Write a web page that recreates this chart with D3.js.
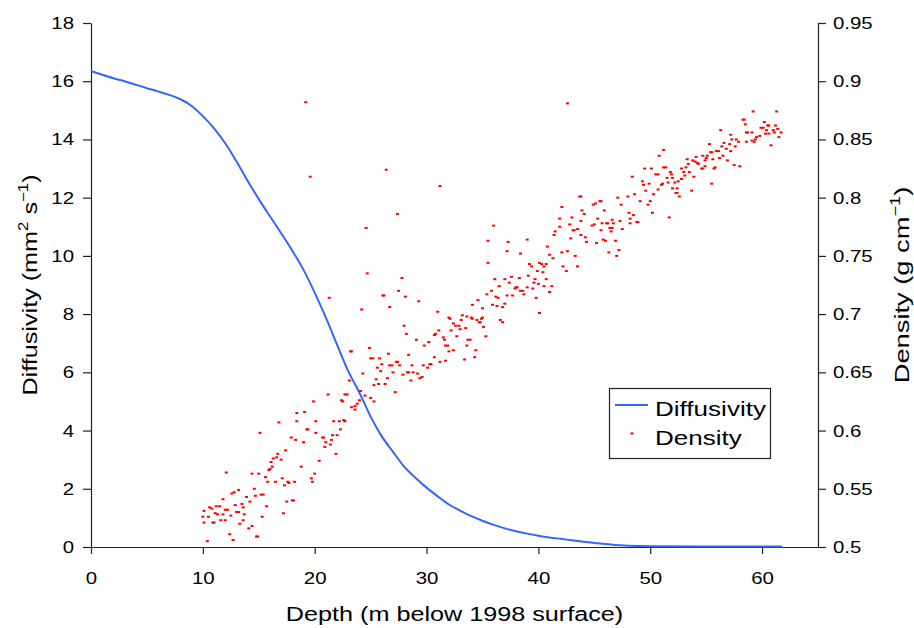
<!DOCTYPE html>
<html>
<head>
<meta charset="utf-8">
<script src="https://cdn.jsdelivr.net/npm/d3@7"></script>
<style>
  body { margin: 0; background: #fff; }
  svg { display: block; }
  text { font-family: "Liberation Sans", Arial, sans-serif; fill: #000; }
</style>
</head>
<body>
<div id="chart"></div>
<script>
// diffusivity profile (depth m, mm2 s-1)
const diffDepth = [0,1,2,3,4,5,6,7,8,9,10,11,12,13,14,15,16,17,18,19,20,21,22,23,24,25,26,27,28,29,30,31,32,33,34,35,36,37,38,39,40,41,42,43,44,45,46,47,48,50,55,61.8];
const diffValues = [16.35,16.22,16.1,16.0,15.88,15.76,15.65,15.53,15.38,15.15,14.8,14.38,13.87,13.25,12.58,11.95,11.36,10.78,10.18,9.52,8.74,7.88,6.95,6.04,5.3,4.48,3.8,3.27,2.76,2.38,2.04,1.74,1.46,1.25,1.06,0.9,0.76,0.64,0.54,0.46,0.39,0.33,0.28,0.23,0.18,0.14,0.1,0.07,0.04,0.025,0.02,0.02];

// density samples [depth m, g cm-3]
const densityPoints = [
  [19.9,0.625],[18.4,0.615],[19.1,0.616],[20.1,0.608],[18.4,0.608],[16.8,0.607],[19.3,0.601],[19.4,0.601],[20.1,0.598],[15.1,0.598],
  [17.9,0.594],[18.3,0.592],[19.0,0.590],[17.4,0.583],[16.7,0.580],[16.3,0.576],[16.6,0.577],[16.1,0.573],[17.0,0.575],[20.4,0.574],
  [16.2,0.569],[16.0,0.567],[15.9,0.566],[18.8,0.569],[12.1,0.564],[14.4,0.563],[15.0,0.563],[20.0,0.563],[15.6,0.560],[17.1,0.559],
  [19.7,0.559],[19.8,0.556],[15.8,0.556],[16.5,0.556],[17.6,0.556],[17.7,0.555],[18.2,0.556],[17.3,0.553],[13.2,0.549],[12.8,0.547],
  [12.6,0.546],[14.6,0.550],[13.9,0.543],[14.7,0.544],[15.2,0.545],[15.4,0.545],[11.8,0.541],[14.2,0.539],[17.5,0.539],[18.0,0.540],
  [18.1,0.540],[12.9,0.536],[13.5,0.537],[15.7,0.535],[11.2,0.535],[11.5,0.535],[10.6,0.534],[10.8,0.533],[13.6,0.534],[12.0,0.532],
  [12.2,0.532],[10.1,0.531],[13.0,0.530],[13.2,0.530],[11.1,0.529],[11.3,0.528],[11.8,0.528],[12.5,0.527],[13.7,0.528],[15.3,0.526],
  [17.2,0.529],[10.0,0.526],[10.5,0.526],[11.6,0.523],[12.0,0.523],[13.6,0.523],[10.1,0.521],[10.9,0.521],[11.0,0.521],[13.3,0.520],
  [14.4,0.518],[14.1,0.516],[12.4,0.511],[14.8,0.509],[14.9,0.509],[12.7,0.506],[10.4,0.505],
  [20.7,0.594],[20.8,0.594],[21.6,0.596],[22.0,0.596],[21.5,0.592],[21.0,0.590],[21.4,0.588],[20.9,0.586],[21.9,0.580],
  [24.7,0.735],[27.8,0.731],[27.5,0.720],[26.1,0.716],[26.2,0.716],[28.1,0.715],[21.3,0.714],[29.3,0.711],[24.2,0.704],[26.7,0.706],
  [28.0,0.690],[28.2,0.683],[29.1,0.678],[30.2,0.676],[29.8,0.673],[23.2,0.668],[23.3,0.668],[24.9,0.671],[26.6,0.666],[28.4,0.665],
  [25.0,0.662],[25.2,0.662],[25.8,0.662],[26.0,0.657],[27.3,0.659],[27.4,0.659],[30.3,0.657],[26.7,0.656],[26.9,0.656],[27.6,0.656],
  [28.7,0.656],[29.7,0.656],[25.6,0.654],[30.1,0.654],[25.9,0.651],[27.0,0.650],[28.3,0.650],[28.4,0.650],[28.8,0.650],[29.2,0.649],
  [27.9,0.648],[24.3,0.649],[29.6,0.646],[29.4,0.645],[26.5,0.645],[25.5,0.644],[28.6,0.643],[23.1,0.643],[25.7,0.640],[26.3,0.640],
  [25.3,0.639],[24.1,0.634],[27.2,0.633],[21.2,0.631],[22.7,0.631],[22.9,0.631],[24.5,0.630],[25.0,0.628],[22.4,0.626],[22.5,0.625],
  [24.0,0.626],[25.3,0.625],[23.8,0.623],[23.3,0.620],[23.6,0.621],[23.6,0.618],[21.7,0.608],[22.2,0.608],[22.6,0.609],[22.7,0.608],
  [22.3,0.601],
  [19.2,0.882],[19.6,0.818],[26.4,0.824],[27.4,0.786],[24.6,0.774],[42.6,0.881],
  [31.2,0.810],[36.0,0.776],[35.5,0.763],[37.3,0.762],[39.0,0.764],[40.8,0.758],[37.2,0.754],[38.4,0.752],[41.0,0.751],[35.5,0.744],
  [39.2,0.743],[39.4,0.741],[40.1,0.744],[40.3,0.743],[40.5,0.741],[40.7,0.743],[39.9,0.737],[40.4,0.736],[39.1,0.733],[37.6,0.732],
  [38.3,0.731],[36.1,0.730],[37.0,0.730],[39.7,0.730],[40.7,0.730],[37.4,0.727],[39.6,0.727],[40.0,0.726],[36.5,0.724],[38.0,0.723],
  [38.1,0.723],[37.9,0.722],[39.0,0.723],[40.5,0.724],[39.5,0.722],[38.4,0.720],[38.6,0.720],[35.8,0.720],[41.0,0.719],[35.4,0.717],
  [38.7,0.717],[37.2,0.716],[37.7,0.716],[36.2,0.715],[36.4,0.714],[39.8,0.714],[34.6,0.712],[37.0,0.709],[35.9,0.708],[36.3,0.707],
  [34.1,0.708],[36.8,0.706],[35.0,0.705],[40.1,0.701],[31.0,0.702],[33.2,0.699],[33.6,0.698],[32.0,0.697],[32.1,0.696],[34.0,0.697],
  [34.1,0.696],[34.9,0.696],[35.0,0.697],[33.1,0.695],[34.5,0.695],[34.7,0.693],[34.8,0.693],[36.6,0.695],[36.8,0.693],[32.4,0.692],
  [32.6,0.690],[32.9,0.690],[33.5,0.688],[35.1,0.689],[33.0,0.687],[32.2,0.686],[31.1,0.686],[30.8,0.683],[30.7,0.682],[32.7,0.681],
  [35.3,0.681],[31.5,0.680],[31.6,0.678],[33.7,0.678],[33.9,0.678],[31.7,0.673],[31.9,0.673],[33.6,0.673],[32.4,0.669],[32.0,0.668],
  [34.4,0.669],[30.7,0.663],[30.4,0.657],[31.2,0.659],[31.7,0.660],[33.4,0.661],[34.3,0.663],
  [51.2,0.841],[50.8,0.836],[51.4,0.826],[49.5,0.825],[50.1,0.825],[50.5,0.820],[50.7,0.820],[51.8,0.822],[48.4,0.818],[51.5,0.817],
  [49.3,0.814],[49.9,0.812],[51.6,0.813],[51.1,0.812],[51.0,0.811],[49.4,0.811],[49.6,0.806],[50.7,0.807],[50.3,0.803],[48.6,0.803],
  [43.7,0.801],[43.8,0.801],[48.0,0.801],[47.1,0.800],[49.1,0.797],[50.0,0.797],[45.5,0.797],[45.6,0.797],[44.9,0.794],[45.1,0.795],
  [47.4,0.794],[49.8,0.794],[42.1,0.792],[43.9,0.789],[45.9,0.789],[48.1,0.787],[50.2,0.787],[44.1,0.786],[48.5,0.785],[43.0,0.783],
  [51.7,0.783],[45.3,0.782],[41.9,0.782],[43.8,0.780],[46.6,0.781],[47.3,0.780],[48.2,0.782],[45.7,0.778],[46.1,0.778],[46.2,0.778],
  [46.7,0.778],[48.2,0.778],[48.8,0.779],[48.9,0.779],[45.0,0.777],[44.8,0.776],[42.8,0.777],[41.9,0.775],[46.4,0.774],[46.6,0.774],
  [47.5,0.773],[43.2,0.772],[43.1,0.772],[43.5,0.773],[45.6,0.772],[46.5,0.771],[41.5,0.771],[41.4,0.768],[43.8,0.768],[44.2,0.766],
  [42.9,0.765],[45.8,0.764],[46.0,0.763],[46.9,0.763],[44.3,0.762],[45.2,0.761],[42.6,0.754],[42.1,0.753],[47.2,0.755],[46.3,0.753],
  [41.3,0.748],[43.3,0.750],[47.0,0.750],[42.2,0.741],[43.5,0.741],[42.5,0.737],[41.2,0.724],
  [59.2,0.874],[61.3,0.874],[58.3,0.867],[58.4,0.867],[58.5,0.863],[60.2,0.865],[60.5,0.862],[60.6,0.862],[61.2,0.862],[59.9,0.860],
  [60.1,0.860],[56.3,0.858],[60.4,0.858],[61.0,0.858],[61.4,0.859],[58.6,0.856],[58.7,0.856],[59.1,0.856],[60.3,0.855],[60.6,0.855],
  [61.1,0.856],[61.7,0.856],[57.2,0.854],[59.8,0.853],[59.5,0.852],[61.5,0.852],[57.3,0.850],[57.7,0.850],[57.9,0.848],[58.6,0.848],
  [59.1,0.849],[59.3,0.848],[59.4,0.850],[56.6,0.847],[57.1,0.846],[55.3,0.846],[57.6,0.844],[56.4,0.844],[60.8,0.845],[56.8,0.842],
  [57.2,0.840],[55.9,0.840],[56.1,0.840],[55.4,0.839],[55.5,0.839],[54.1,0.835],[54.7,0.836],[55.1,0.836],[55.0,0.834],[56.5,0.836],
  [56.2,0.834],[55.6,0.833],[53.3,0.833],[54.9,0.832],[53.8,0.832],[54.0,0.831],[54.2,0.830],[56.9,0.832],[53.4,0.829],[54.3,0.829],
  [54.9,0.827],[54.6,0.825],[54.7,0.825],[57.5,0.828],[58.0,0.827],[55.8,0.826],[55.7,0.825],[51.2,0.826],[52.8,0.825],[53.2,0.826],
  [53.5,0.822],[53.0,0.822],[51.9,0.820],[53.1,0.819],[53.9,0.818],[52.8,0.816],[52.0,0.817],[52.5,0.814],[52.2,0.813],[55.5,0.812],
  [52.0,0.808],[52.4,0.808],[53.7,0.806],[52.3,0.804],[52.4,0.804],[52.6,0.801]
];

const xTicks = [0,10,20,30,40,50,60];
const leftTicks = [0,2,4,6,8,10,12,14,16,18];
const rightTicks = [0.5,0.55,0.6,0.65,0.7,0.75,0.8,0.85,0.9,0.95];

const W = 914, H = 628;
const margin = {top: 23, right: 96, bottom: 81, left: 91};
const STRETCH = 1.2;   // the original fonts are a bit wider than tall

const svg = d3.select("#chart").append("svg")
    .attr("width", W).attr("height", H)
    .attr("viewBox", `0 0 ${W} ${H}`);

const x = d3.scaleLinear().domain([0, 65]).range([margin.left, W - margin.right]);
const yL = d3.scaleLinear().domain([0, 18]).range([H - margin.bottom, margin.top]);
const yR = d3.scaleLinear().domain([0.5, 0.95]).range([H - margin.bottom, margin.top]);

// widen text horizontally
const stretch = (sel, k) => sel.each(function() {
    const w = this.getComputedTextLength();
    d3.select(this).attr("textLength", w * k).attr("lengthAdjust", "spacingAndGlyphs");
});

const styleAxis = g => {
    g.select(".domain").attr("stroke", "#222").attr("stroke-width", 1.2);
    g.selectAll(".tick line").attr("stroke", "#222").attr("stroke-width", 1.2);
    g.selectAll(".tick text").attr("font-size", 17).attr("fill", "#000")
        .style("font-family", '"Liberation Sans", Arial, sans-serif');
    stretch(g.selectAll(".tick text"), STRETCH);
};

svg.append("g")
    .attr("transform", `translate(0,${H - margin.bottom})`)
    .call(d3.axisBottom(x).tickValues(xTicks).tickSize(7).tickSizeOuter(0).tickPadding(18))
    .call(styleAxis);

svg.append("g")
    .attr("transform", `translate(${margin.left},0)`)
    .call(d3.axisLeft(yL).tickValues(leftTicks).tickSize(8).tickSizeOuter(0).tickPadding(9))
    .call(styleAxis);

svg.append("g")
    .attr("transform", `translate(${W - margin.right},0)`)
    .call(d3.axisRight(yR).tickValues(rightTicks).tickSize(8).tickSizeOuter(0).tickPadding(7)
        .tickFormat(d => String(+d.toFixed(2))))
    .call(styleAxis);

// diffusivity curve
const line = d3.line()
    .x((d, i) => x(diffDepth[i]))
    .y(d => yL(d))
    .curve(d3.curveMonotoneX);

svg.append("path")
    .datum(diffValues)
    .attr("d", line)
    .attr("fill", "none")
    .attr("stroke", "#3366ff")
    .attr("stroke-width", 2);

// density dots
svg.append("g").selectAll("rect")
    .data(densityPoints)
    .join("rect")
    .attr("x", d => x(d[0]) - 1.5)
    .attr("y", d => yR(d[1]) - 1)
    .attr("width", 3)
    .attr("height", 2)
    .attr("fill", "#ff0000");

// axis titles
const cx = (margin.left + W - margin.right) / 2;
const cy = (margin.top + H - margin.bottom) / 2;

svg.append("text")
    .attr("transform", `translate(${cx},621) scale(${STRETCH},1)`)
    .attr("text-anchor", "middle")
    .attr("font-size", 21)
    .text("Depth (m below 1998 surface)");

const leftTitle = svg.append("text")
    .attr("transform", `translate(37,${cy}) rotate(-90) scale(1.2,1)`)
    .attr("text-anchor", "middle")
    .attr("font-size", 21);
leftTitle.append("tspan").text("Diffusivity (mm");
leftTitle.append("tspan").attr("font-size", 14).attr("dy", -9).text("2");
leftTitle.append("tspan").attr("dy", 9).text(" s");
leftTitle.append("tspan").attr("font-size", 14).attr("dy", -9).text("\u22121");
leftTitle.append("tspan").attr("dy", 9).text(")");

const rightTitle = svg.append("text")
    .attr("transform", `translate(909,${cy}) rotate(-90) scale(1.3,1)`)
    .attr("text-anchor", "middle")
    .attr("font-size", 21);
rightTitle.append("tspan").text("Density (g cm");
rightTitle.append("tspan").attr("font-size", 14).attr("dy", -9).text("\u22121");
rightTitle.append("tspan").attr("dy", 9).text(")");

// legend
const legend = svg.append("g");
legend.append("rect")
    .attr("x", 609.5).attr("y", 388.5)
    .attr("width", 161).attr("height", 70)
    .attr("fill", "#fff").attr("stroke", "#222").attr("stroke-width", 1.2);
legend.append("line")
    .attr("x1", 615).attr("x2", 648).attr("y1", 405).attr("y2", 405)
    .attr("stroke", "#3366ff").attr("stroke-width", 2);
legend.append("rect")
    .attr("x", 630.5).attr("y", 432.5).attr("width", 3).attr("height", 2)
    .attr("fill", "#ff0000");
const legendText = legend.selectAll("text.lab")
    .data(["Diffusivity", "Density"])
    .join("text")
    .attr("class", "lab")
    .attr("x", 655)
    .attr("y", (d, i) => 416 + i * 29)
    .attr("font-size", 21)
    .text(d => d);
stretch(legendText, 1.24);
</script>
</body>
</html>
